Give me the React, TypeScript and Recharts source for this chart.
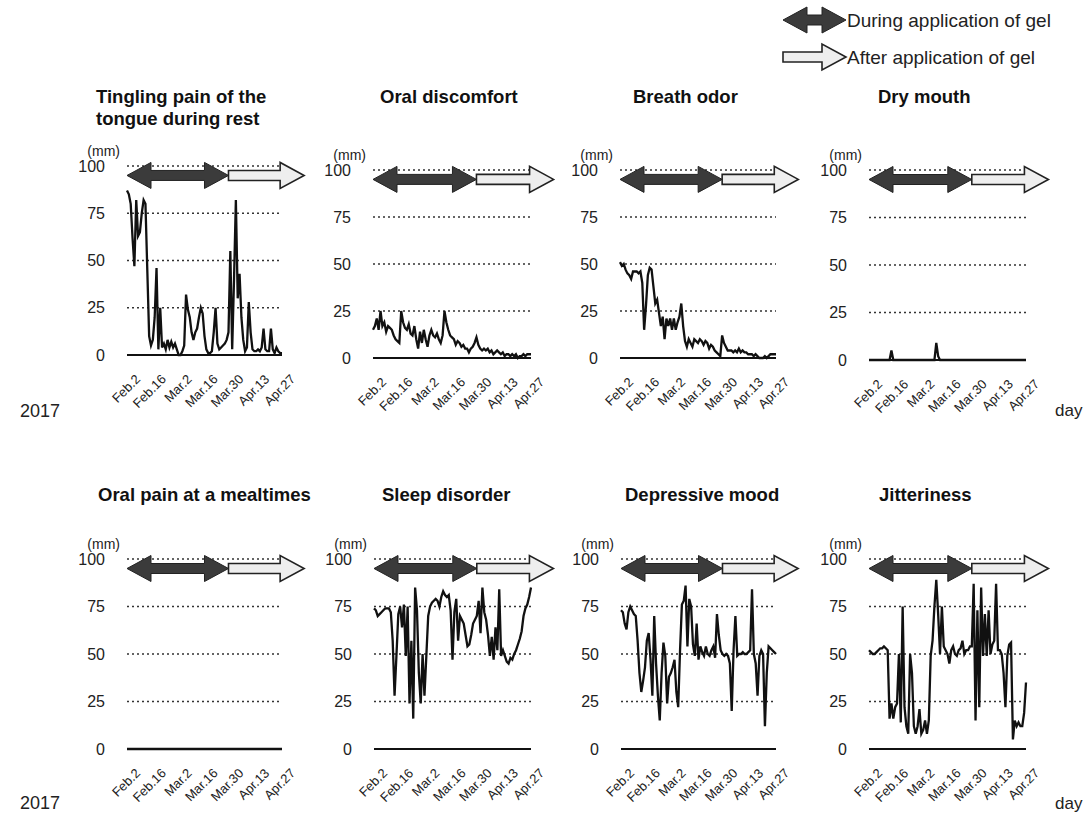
import React from 'react';
import { LineChart, Line, XAxis, YAxis, CartesianGrid, ReferenceArea } from 'recharts';

// ---- data ----
const dayIndex: number[] = Array.from({ length: 85 }, (_, i) => i); // 0 = Feb.2 ... 84 = Apr.27
const tickDays = [0, 14, 28, 42, 56, 70, 84];
const tickLabels = ['Feb.2', 'Feb.16', 'Mar.2', 'Mar.16', 'Mar.30', 'Apr.13', 'Apr.27'];
const yTicks = [0, 25, 50, 75, 100];
const duringStart = 0;
const duringEnd = 55;
const afterEnd = 96;

const tingling = [
  87, 85, 80, 62, 47, 82, 63, 65, 75, 82,
  80, 45, 10, 5, 8, 20, 46, 3, 25, 4,
  6, 3, 8, 4, 7, 4, 6, 3, 0, 0,
  2, 5, 32, 24, 20, 12, 8, 12, 14, 20,
  25, 22, 10, 3, 1, 1, 2, 12, 25, 6,
  3, 4, 5, 6, 8, 12, 55, 3, 40, 82,
  30, 43, 20, 8, 2, 4, 28, 12, 3, 2,
  2, 3, 2, 4, 14, 3, 2, 2, 14, 3,
  1, 4, 2, 1, 1,
];
const oralDiscomfort = [
  15, 17, 21, 15, 25, 17, 19, 14, 17, 16,
  15, 12, 10, 9, 8, 25, 19, 16, 15, 18,
  13, 12, 17, 10, 5, 14, 8, 15, 10, 6,
  12, 15, 12, 11, 13, 10, 8, 12, 25, 19,
  15, 12, 11, 10, 7, 9, 8, 6, 7, 5,
  5, 3, 5, 6, 8, 11, 7, 5, 4, 5,
  4, 5, 3, 4, 2, 3, 4, 3, 2, 3,
  1, 2, 2, 1, 2, 1, 2, 0, 1, 1,
  2, 1, 2, 2, 2,
];
const breathOdor = [
  51, 49, 50, 47, 45, 44, 42, 46, 46, 46,
  45, 46, 40, 15, 28, 44, 48, 47, 38, 29,
  31, 24, 17, 22, 10, 21, 17, 21, 15, 21,
  15, 19, 22, 29, 17, 9, 6, 10, 8, 6,
  10, 9, 8, 10, 9, 7, 9, 8, 5, 7,
  6, 4, 3, 2, 1, 12, 8, 6, 4, 4,
  4, 3, 4, 3, 5, 3, 4, 3, 3, 2,
  2, 2, 1, 2, 1, 0, 0, 0, 1, 0,
  1, 2, 2, 2, 2,
];
const dryMouth = [
  0, 0, 0, 0, 0, 0, 0, 0, 0, 0,
  0, 0, 5, 0, 0, 0, 0, 0, 0, 0,
  0, 0, 0, 0, 0, 0, 0, 0, 0, 0,
  0, 0, 0, 0, 0, 0, 9, 2, 0, 0,
  0, 0, 0, 0, 0, 0, 0, 0, 0, 0,
  0, 0, 0, 0, 0, 0, 0, 0, 0, 0,
  0, 0, 0, 0, 0, 0, 0, 0, 0, 0,
  0, 0, 0, 0, 0, 0, 0, 0, 0, 0,
  0, 0, 0, 0, 0,
];
const oralPainMeal = [
  0, 0, 0, 0, 0, 0, 0, 0, 0, 0,
  0, 0, 0, 0, 0, 0, 0, 0, 0, 0,
  0, 0, 0, 0, 0, 0, 0, 0, 0, 0,
  0, 0, 0, 0, 0, 0, 0, 0, 0, 0,
  0, 0, 0, 0, 0, 0, 0, 0, 0, 0,
  0, 0, 0, 0, 0, 0, 0, 0, 0, 0,
  0, 0, 0, 0, 0, 0, 0, 0, 0, 0,
  0, 0, 0, 0, 0, 0, 0, 0, 0, 0,
  0, 0, 0, 0, 0,
];
const sleepDisorder = [
  74, 73, 70, 71, 72, 73, 74, 74, 74, 72,
  57, 28, 49, 71, 75, 64, 76, 49, 75, 24,
  57, 16, 85, 73, 40, 24, 50, 28, 49, 70,
  75, 77, 78, 79, 78, 75, 80, 83, 81, 80,
  81, 73, 47, 72, 79, 57, 70, 68, 66, 60,
  54, 55, 60, 66, 68, 70, 78, 61, 85, 72,
  68, 60, 49, 59, 47, 64, 52, 84, 49, 52,
  49, 46, 45, 48, 47, 50, 52, 55, 58, 62,
  70, 74, 76, 80, 85,
];
const depressiveMood = [
  73, 72, 66, 63, 72, 75, 73, 71, 70, 57,
  40, 30, 36, 43, 57, 61, 47, 28, 70, 45,
  28, 15, 40, 56, 49, 24, 38, 40, 43, 47,
  30, 22, 52, 76, 78, 86, 54, 79, 75, 55,
  49, 66, 47, 54, 51, 49, 54, 50, 49, 52,
  54, 48, 71, 60, 52, 50, 49, 50, 49, 45,
  20, 52, 70, 49, 50, 50, 51, 50, 50, 51,
  52, 84, 50, 45, 28, 49, 52, 50, 12, 40,
  54, 53, 52, 51, 50,
];
const jitteriness = [
  52, 51, 50, 50, 51, 52, 53, 53, 54, 53,
  52, 16, 24, 16, 22, 24, 50, 14, 75, 22,
  12, 8, 50, 40, 12, 8, 12, 21, 8, 10,
  15, 8, 15, 49, 57, 75, 89, 71, 50, 75,
  54, 52, 50, 45, 52, 54, 50, 49, 52, 53,
  57, 50, 52, 52, 54, 54, 87, 15, 73, 22,
  85, 49, 71, 49, 73, 50, 55, 57, 87, 52,
  52, 50, 40, 22, 49, 55, 56, 5, 15, 12,
  14, 12, 12, 19, 35,
];

const titles: string[][] = [
  ['Tingling pain of the', 'tongue during rest'],
  ['Oral discomfort'],
  ['Breath odor'],
  ['Dry mouth'],
  ['Oral pain at a mealtimes'],
  ['Sleep disorder'],
  ['Depressive mood'],
  ['Jitteriness'],
];
const seriesList = [tingling, oralDiscomfort, breathOdor, dryMouth, oralPainMeal, sleepDisorder, depressiveMood, jitteriness];

// ---- layout (pixel positions of each plot area) ----
const layout = [
  { left: 127, right: 282, top: 166, bottom: 355, tx: 96, ty: 103 },
  { left: 373, right: 531, top: 170, bottom: 358, tx: 380, ty: 103 },
  { left: 620, right: 776, top: 170, bottom: 358, tx: 633, ty: 103 },
  { left: 869, right: 1026, top: 170, bottom: 360, tx: 878, ty: 103 },
  { left: 127, right: 282, top: 559, bottom: 749, tx: 98, ty: 501 },
  { left: 374, right: 531, top: 559, bottom: 749, tx: 382, ty: 501 },
  { left: 621, right: 776, top: 559, bottom: 749, tx: 625, ty: 501 },
  { left: 869, right: 1026, top: 559, bottom: 749, tx: 879, ty: 501 },
];

const FONT = '"Liberation Sans", Arial, Helvetica, sans-serif';
const YW = 50;
const MT = 30;
const MR = 40;
const XH = 60;
const HEAD_L = 24;
const HEAD_H = 13;
const SHAFT_H = 5;

function darkArrowPath(x0: number, x1: number, cy: number) {
  return `M${x0},${cy} L${x0 + HEAD_L},${cy - HEAD_H} L${x0 + HEAD_L},${cy - SHAFT_H} L${x1 - HEAD_L},${cy - SHAFT_H} L${x1 - HEAD_L},${cy - HEAD_H} L${x1},${cy} L${x1 - HEAD_L},${cy + HEAD_H} L${x1 - HEAD_L},${cy + SHAFT_H} L${x0 + HEAD_L},${cy + SHAFT_H} L${x0 + HEAD_L},${cy + HEAD_H} Z`;
}
function lightArrowPath(x0: number, x1: number, cy: number) {
  return `M${x0},${cy - SHAFT_H} L${x1 - HEAD_L},${cy - SHAFT_H} L${x1 - HEAD_L},${cy - HEAD_H} L${x1},${cy} L${x1 - HEAD_L},${cy + HEAD_H} L${x1 - HEAD_L},${cy + SHAFT_H} L${x0},${cy + SHAFT_H} Z`;
}

const DarkArrow = (p: any) => {
  const cy = p.y + p.height / 2;
  return <path d={darkArrowPath(p.x, p.x + p.width, cy)} fill="#3b3b3b" stroke="#222" strokeWidth={1} />;
};
const LightArrow = (p: any) => {
  const cy = p.y + p.height / 2;
  return <path d={lightArrowPath(p.x, p.x + p.width, cy)} fill="#eeeeee" stroke="#222" strokeWidth={1.6} strokeLinejoin="miter" />;
};

const XTick = (props: any) => {
  const { x, y, payload } = props;
  const idx = tickDays.indexOf(payload.value);
  const ax = x + 14;
  const ay = y + 25;
  return (
    <text x={ax} y={ay} textAnchor="end" transform={`rotate(-45, ${ax}, ${ay})`} fontSize={13} fill="#222" fontFamily={FONT}>
      {idx >= 0 ? tickLabels[idx] : ''}
    </text>
  );
};

const MmLabel = (p: any) => {
  const vb = p && p.viewBox ? p.viewBox : { x: 0, y: MT, width: YW };
  return (
    <text x={vb.x + vb.width - 7} y={vb.y - 10} textAnchor="end" fontSize={14} fill="#222" fontFamily={FONT}>
      (mm)
    </text>
  );
};

function Panel({ values, l }: { values: number[]; l: typeof layout[number] }) {
  const plotW = l.right - l.left;
  const plotH = l.bottom - l.top;
  const width = YW + plotW + MR;
  const height = MT + plotH + XH;
  const data = dayIndex.map((d, i) => ({ day: d, v: values[i] }));
  return (
    <div style={{ position: 'absolute', left: l.left - YW, top: l.top - MT }}>
      <LineChart width={width} height={height} data={data} margin={{ top: MT, right: MR, left: 0, bottom: 0 }}>
        <CartesianGrid horizontal vertical={false} stroke="#333" strokeDasharray="2 3" strokeWidth={1.4} />
        <XAxis
          dataKey="day"
          type="number"
          domain={[0, 84]}
          ticks={tickDays}
          interval={0}
          tick={XTick}
          tickLine={false}
          tickSize={0}
          tickMargin={0}
          axisLine={{ stroke: '#111', strokeWidth: 2 }}
          height={XH}
        />
        <YAxis
          domain={[0, 100]}
          ticks={yTicks}
          interval={0}
          width={YW}
          axisLine={false}
          tickLine={false}
          tickSize={0}
          tickMargin={22}
          tick={{ fontSize: 16, fill: '#222', fontFamily: FONT }}
          label={MmLabel}
        />
        <ReferenceArea x1={duringStart} x2={duringEnd} y1={90} y2={100} ifOverflow="visible" shape={DarkArrow} />
        <ReferenceArea x1={duringEnd} x2={afterEnd} y1={90} y2={100} ifOverflow="visible" shape={LightArrow} />
        <Line dataKey="v" type="linear" stroke="#111" strokeWidth={2.3} dot={false} activeDot={false} isAnimationActive={false} />
      </LineChart>
    </div>
  );
}

export default function App() {
  return (
    <div style={{ position: 'absolute', left: 0, top: 0, width: 1091, height: 824, background: '#fff', fontFamily: FONT, overflow: 'hidden' }}>
      {layout.map((l, i) => (
        <Panel key={i} values={seriesList[i]} l={l} />
      ))}
      <svg width={1091} height={824} style={{ position: 'absolute', left: 0, top: 0, pointerEvents: 'none' }} fontFamily={FONT}>
        {layout.map((l, i) =>
          titles[i].map((line, j) => (
            <text key={`${i}-${j}`} x={l.tx} y={l.ty + j * 22} fontSize={18.5} fontWeight="bold" fill="#111">
              {line}
            </text>
          ))
        )}
        <text x={20} y={417} fontSize={18} fill="#222">2017</text>
        <text x={20} y={809} fontSize={18} fill="#222">2017</text>
        <text x={1055} y={416} fontSize={17} fill="#222">day</text>
        <text x={1055} y={809} fontSize={17} fill="#222">day</text>
        <path d={darkArrowPath(783, 846, 20)} fill="#3b3b3b" stroke="#222" strokeWidth={1} />
        <text x={847} y={27} fontSize={19} fill="#222">During application of gel</text>
        <path d={lightArrowPath(783, 846, 57)} fill="#eeeeee" stroke="#222" strokeWidth={1.6} />
        <text x={847} y={64} fontSize={19} fill="#222">After application of gel</text>
      </svg>
    </div>
  );
}
